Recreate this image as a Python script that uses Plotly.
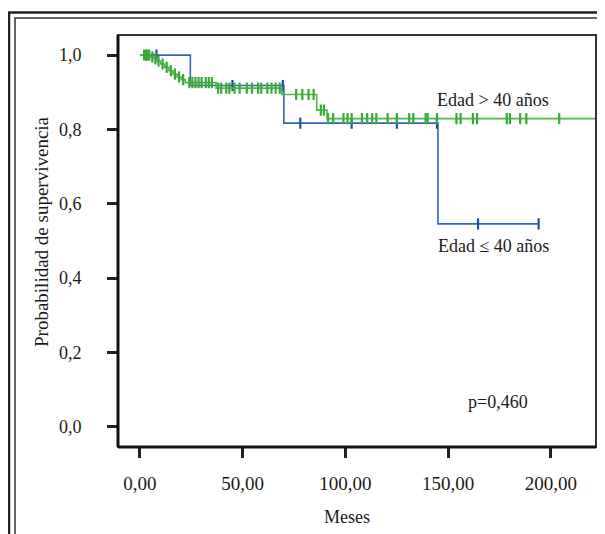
import numpy as np
import plotly.graph_objects as go

# ---- Data ----
# Edad > 40 años (green) Kaplan-Meier step curve
g_times = [0, 5, 7, 8, 10, 12, 14, 16, 18, 20, 22, 37, 69, 86, 91, 225]
g_surv = [1.0, 0.995, 0.99, 0.984, 0.976, 0.967, 0.958, 0.949, 0.941, 0.934, 0.926,
          0.911, 0.894, 0.852, 0.829, 0.829]
g_censor = [2, 3, 3.5, 4.5, 6, 7.5, 9, 11, 13, 15, 17, 19, 21,
            24, 25.5, 27, 28.5, 30, 32, 33.5, 35,
            38, 39.5, 42, 43.5, 46, 48.5, 52, 54.5, 57.5, 59, 62, 64, 66, 68,
            76, 79, 82, 84.5, 88, 89.5,
            91.5, 94, 99, 101, 103, 108, 110.5, 113, 115, 120.5, 125, 131, 133,
            139, 140, 144.5, 154, 156, 162, 164, 178.5, 180, 185, 188, 204]

# Edad <= 40 años (blue)
b_times = [0, 24.5, 70, 145, 194]
b_surv = [1.0, 0.918, 0.817, 0.546, 0.546]
b_censor = [8, 45, 69.5, 78, 103, 125, 144.5, 164.5, 194]

x_tickvals = [0, 50, 100, 150, 200]
x_ticktext = ["0,00", "50,00", "100,00", "150,00", "200,00"]
y_tickvals = [0.0, 0.2, 0.4, 0.6, 0.8, 1.0]
y_ticktext = ["0,0", "0,2", "0,4", "0,6", "0,8", "1,0"]


def step_at(times, surv, t):
    i = np.searchsorted(times, t, side="right") - 1
    return [surv[k] for k in i]


GREEN = "#4fb848"
GREEN_M = "#3aa83a"
BLUE = "#3263b8"
BLUE_M = "#1f4fa0"
FONT = "Liberation Serif"
TXT = "#1a1a1a"

fig = go.Figure()
fig.add_trace(go.Scatter(x=b_times, y=b_surv, mode="lines", line_shape="hv",
                         line=dict(color=BLUE, width=1.6), hoverinfo="skip"))
fig.add_trace(go.Scatter(x=b_censor, y=step_at(b_times, b_surv, b_censor), mode="markers",
                         marker=dict(symbol="line-ns", size=8,
                                     line=dict(color=BLUE_M, width=2.2))))
fig.add_trace(go.Scatter(x=g_times, y=g_surv, mode="lines", line_shape="hv",
                         line=dict(color=GREEN, width=1.6), hoverinfo="skip"))
fig.add_trace(go.Scatter(x=g_censor, y=step_at(g_times, g_surv, g_censor), mode="markers",
                         marker=dict(symbol="line-ns", size=8,
                                     line=dict(color=GREEN_M, width=2.2))))

# The page has an 8px body margin; work in page pixels and convert.
OFF = 8
W, H = 605 - OFF, 534 - OFF
L, R, T, B = 118 - OFF, 596 - OFF, 35 - OFF, 447 - OFF
pw, ph = R - L, B - T


def px(xp):  # page px -> paper x
    return (xp - OFF - L) / pw


def py(yp):  # page px -> paper y
    return (B - (yp - OFF)) / ph


shapes = [
    # outer double border
    dict(type="rect", xref="paper", yref="paper", x0=px(9), x1=px(660), y0=py(620), y1=py(12.5),
         line=dict(color="#222", width=2.5)),
    dict(type="rect", xref="paper", yref="paper", x0=px(15), x1=px(654), y0=py(614), y1=py(18),
         line=dict(color="#333", width=1.5)),
    # plot frame
    dict(type="rect", xref="paper", yref="paper", x0=0, x1=1, y0=0, y1=1,
         line=dict(color="#333", width=2)),
    dict(type="line", xref="paper", yref="paper", x0=0, x1=0, y0=0, y1=1,
         line=dict(color="#111", width=3)),
    dict(type="line", xref="paper", yref="paper", x0=0, x1=1, y0=0, y1=0,
         line=dict(color="#111", width=3)),
]

annotations = [
    dict(x=171.8, y=0.879, xref="x", yref="y", text="Edad > 40 años", showarrow=False,
         xanchor="center", yanchor="middle", font=dict(family=FONT, size=18, color=TXT)),
    dict(x=171.8, y=0.487, xref="x", yref="y", text="Edad ≤ 40 años", showarrow=False,
         xanchor="center", yanchor="middle", font=dict(family=FONT, size=18, color=TXT)),
    dict(x=174, y=0.067, xref="x", yref="y", text="p=0,460", showarrow=False,
         xanchor="center", yanchor="middle", font=dict(family=FONT, size=18, color=TXT)),
    dict(x=px(347), y=py(517), xref="paper", yref="paper", text="Meses", showarrow=False,
         xanchor="center", yanchor="middle", font=dict(family=FONT, size=18, color=TXT)),
    dict(x=px(41), y=py(232), xref="paper", yref="paper", text="Probabilidad de supervivencia",
         showarrow=False, textangle=-90, xanchor="center", yanchor="middle",
         font=dict(family=FONT, size=19, color=TXT)),
]

fig.update_layout(
    width=W, height=H,
    margin=dict(l=L, r=W - R, t=T, b=H - B),
    paper_bgcolor="white", plot_bgcolor="white",
    showlegend=False,
    shapes=shapes, annotations=annotations,
    font=dict(family=FONT, size=18, color=TXT),
    xaxis=dict(range=[-10.7, 221.9], tickvals=x_tickvals, ticktext=x_ticktext,
               showgrid=False, zeroline=False, showline=False,
               ticks="outside", ticklen=10, tickwidth=2.5, tickcolor="#222",
               ticklabelstandoff=9, tickfont=dict(family=FONT, size=19, color=TXT)),
    yaxis=dict(range=[-0.054, 1.054], tickvals=y_tickvals, ticktext=y_ticktext,
               showgrid=False, zeroline=False, showline=False,
               ticks="outside", ticklen=10, tickwidth=2.5, tickcolor="#222",
               ticklabelstandoff=22, tickfont=dict(family=FONT, size=18, color=TXT)),
)

fig.write_html("out.html")
